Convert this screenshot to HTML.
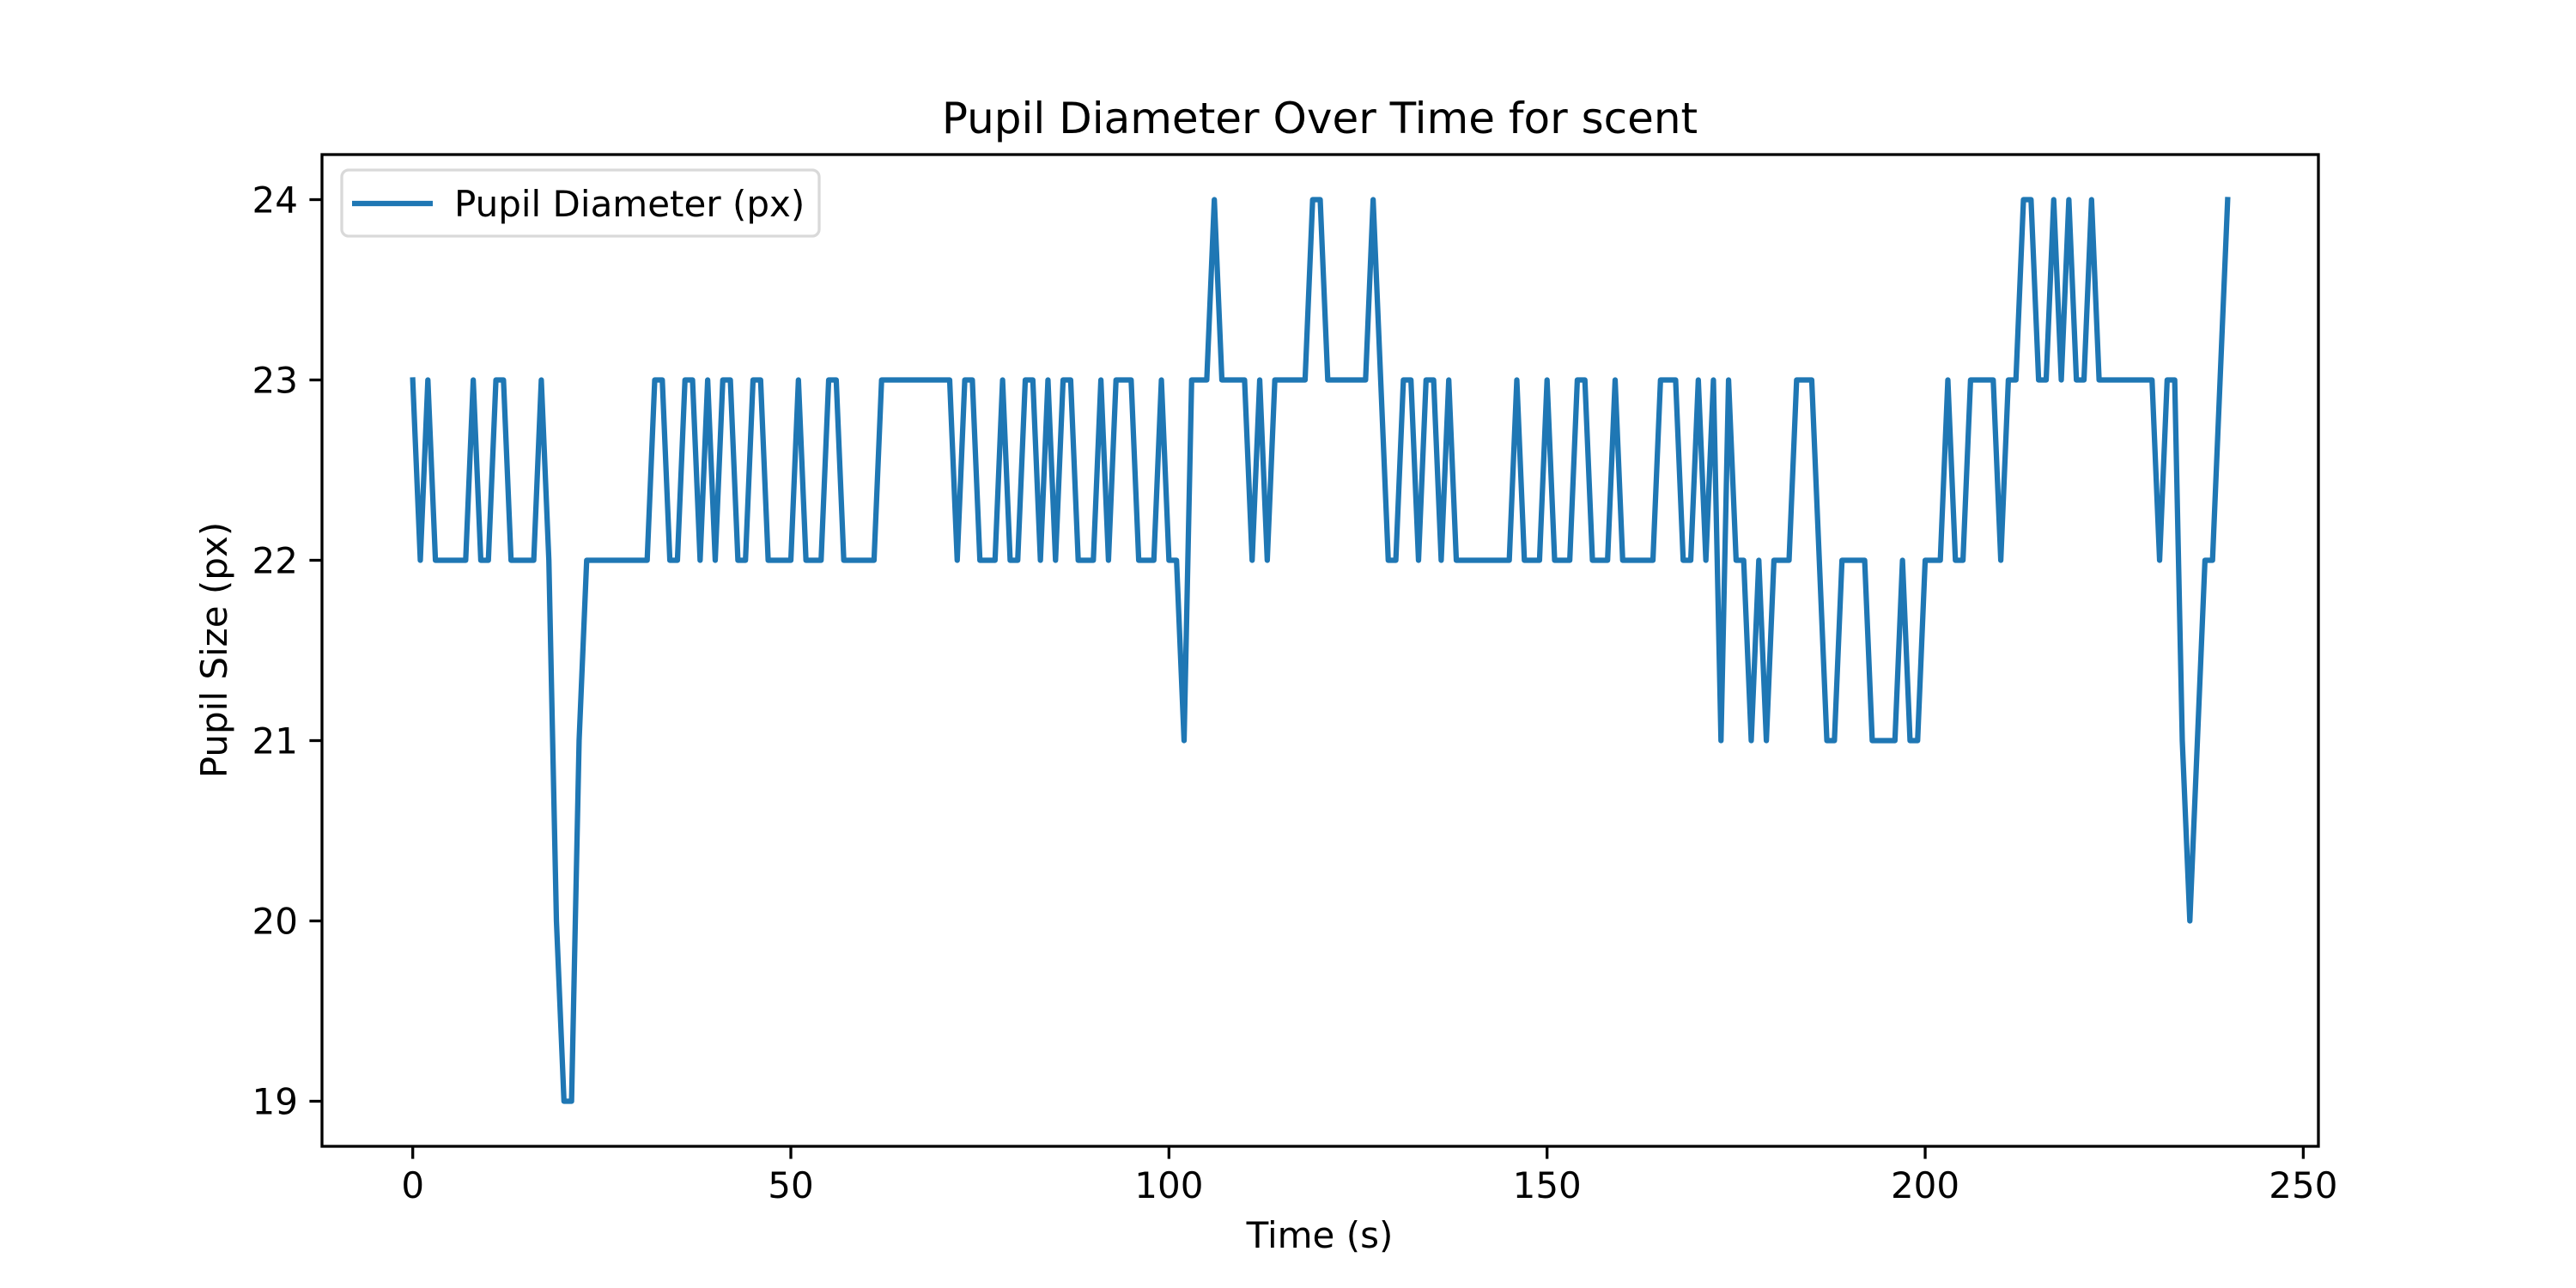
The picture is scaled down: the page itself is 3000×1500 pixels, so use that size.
<!DOCTYPE html>
<html><head><meta charset="utf-8"><style>
html,body{margin:0;padding:0;background:#fff}
svg{display:block}
text{font-family:"DejaVu Sans","Liberation Sans",sans-serif;fill:#000}
</style></head><body>
<svg id="chart" width="3000" height="1500" viewBox="0 0 3000 1500" xmlns="http://www.w3.org/2000/svg">
<rect x="0" y="0" width="3000" height="1500" fill="#fff"/>
<text x="1537" y="155" font-size="50" text-anchor="middle">Pupil Diameter Over Time for scent</text>
<g id="plot"></g>
<text x="1537" y="1453" font-size="42" text-anchor="middle">Time (s)</text>
<text x="0" y="0" font-size="42" text-anchor="middle" transform="translate(264,757) rotate(-90)">Pupil Size (px)</text>
</svg>
<script>
const pupilValues = [
23,22,23,22,22,22,22,22,23,22,
22,23,23,22,22,22,22,23,22,20,
19,19,21,22,22,22,22,22,22,22,
22,22,23,23,22,22,23,23,22,23,
22,23,23,22,22,23,23,22,22,22,
22,23,22,22,22,23,23,22,22,22,
22,22,23,23,23,23,23,23,23,23,
23,23,22,23,23,22,22,22,23,22,
22,23,23,22,23,22,23,23,22,22,
22,23,22,23,23,23,22,22,22,23,
22,22,21,23,23,23,24,23,23,23,
23,22,23,22,23,23,23,23,23,24,
24,23,23,23,23,23,23,24,23,22,
22,23,23,22,23,23,22,23,22,22,
22,22,22,22,22,22,23,22,22,22,
23,22,22,22,23,23,22,22,22,23,
22,22,22,22,22,23,23,23,22,22,
23,22,23,21,23,22,22,21,22,21,
22,22,22,23,23,23,22,21,21,22,
22,22,22,21,21,21,21,22,21,21,
22,22,22,23,22,22,23,23,23,23,
22,23,23,24,24,23,23,24,23,24,
23,23,24,23,23,23,23,23,23,23,
23,22,23,23,21,20,21,22,22,23,24];
const timeValues = pupilValues.map((v,i)=>i);
const xTickValues = [0,50,100,150,200,250];
const yTickValues = [19,20,21,22,23,24];
const xDomain = [-12, 252];
const yDomain = [18.75, 24.25];

const L=375,R=2700,T=180,B=1335;
function xs(v){return L+(v-xDomain[0])/(xDomain[1]-xDomain[0])*(R-L);}
function ys(v){return B-(v-yDomain[0])/(yDomain[1]-yDomain[0])*(B-T);}
const NS="http://www.w3.org/2000/svg";
const g=document.getElementById('plot');
function mk(tag,attrs,parent){const e=document.createElementNS(NS,tag);for(const k in attrs)e.setAttribute(k,attrs[k]);(parent||g).appendChild(e);return e;}

const pts=timeValues.map((t,i)=>xs(t).toFixed(2)+','+ys(pupilValues[i]).toFixed(2)).join(' ');
const line=mk('polyline',{points:pts,fill:'none',stroke:'#1f77b4','stroke-width':6.25,'stroke-linejoin':'round','stroke-linecap':'square'});



xTickValues.forEach(v=>{
  const x=xs(v);
  const tk=mk('line',{x1:x,x2:x,y1:B,y2:B+14.6,stroke:'#000','stroke-width':3.3});
  
  
  const tx=mk('text',{x:x,y:B+60,'font-size':42,'text-anchor':'middle'});
  tx.textContent=String(v);
  
  
});
yTickValues.forEach(v=>{
  const y=ys(v);
  const tk=mk('line',{x1:L-14.6,x2:L,y1:y,y2:y,stroke:'#000','stroke-width':3.3});
  
  
  const tx=mk('text',{x:L-28,y:y+15,'font-size':42,'text-anchor':'end'});
  tx.textContent=String(v);
  
  
});
const fr=mk('rect',{x:L,y:T,width:R-L,height:B-T,fill:'none',stroke:'#000','stroke-width':3.3});


const lg=mk('g',{});


mk('rect',{x:398,y:198,width:556,height:77,rx:8,fill:'#fff','fill-opacity':0.8,stroke:'#d9d9d9','stroke-width':3.3},lg);
const ls=mk('line',{x1:410,x2:504,y1:237,y2:237,stroke:'#1f77b4','stroke-width':6.25},lg);


const lt=mk('text',{x:529,y:252,'font-size':42},lg);
lt.textContent='Pupil Diameter (px)';


</script>
</body></html>
